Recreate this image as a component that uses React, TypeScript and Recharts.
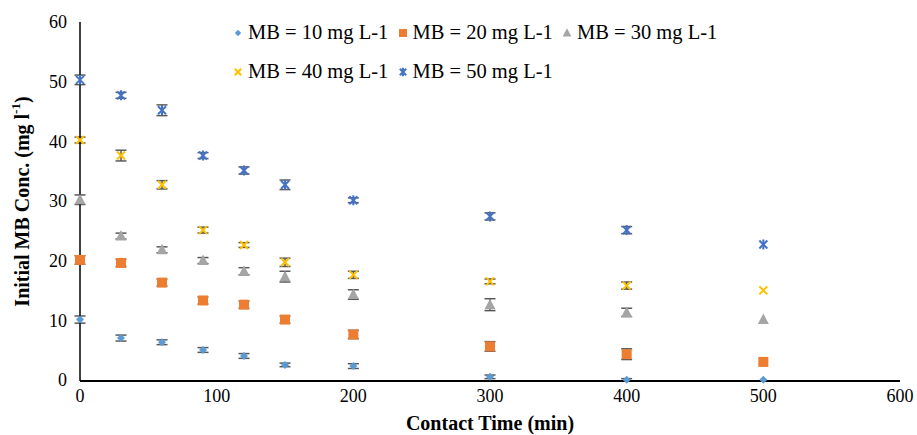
import { ScatterChart, Scatter, XAxis, YAxis, ErrorBar } from "recharts";

const times = [0, 30, 60, 90, 120, 150, 200, 300, 400, 500];

const mb10 = [10.1, 7.0, 6.3, 5.0, 4.0, 2.5, 2.3, 0.5, 0.0, 0.0];
const mb10Err = [0.6, 0.5, 0.4, 0.4, 0.4, 0.3, 0.4, 0.3, 0.2, 0];
const mb20 = [20.1, 19.6, 16.3, 13.3, 12.6, 10.1, 7.6, 5.6, 4.3, 3.0];
const mb20Err = [0.7, 0.6, 0.6, 0.6, 0.6, 0.6, 0.7, 0.8, 0.9, 0];
const mb30 = [30.2, 24.1, 21.8, 20.0, 18.2, 17.3, 14.3, 12.6, 11.3, 10.1];
const mb30Err = [0.8, 0.5, 0.5, 0.5, 0.6, 0.9, 0.8, 1.0, 0.7, 0];
const mb40 = [40.2, 37.6, 32.7, 25.1, 22.6, 19.7, 17.6, 16.5, 15.8, 15.0];
const mb40Err = [0.5, 0.9, 0.7, 0.5, 0.4, 0.7, 0.6, 0.4, 0.6, 0];
const mb50 = [50.3, 47.7, 45.2, 37.6, 35.1, 32.7, 30.1, 27.4, 25.1, 22.7];
const mb50Err = [0.8, 0.5, 0.9, 0.5, 0.6, 0.8, 0.4, 0.6, 0.6, 0];

const xTicks = [0, 100, 200, 300, 400, 500, 600];
const yTicks = [0, 10, 20, 30, 40, 50, 60];

const FONT = "Liberation Serif";

const toRows = (vals: number[], errs: number[]) =>
  times.map((t, i) => ({ time: t, value: vals[i], err: errs[i] }));

type Kind = "diamond" | "square" | "triangle" | "cross" | "star";

const series: { name: string; color: string; kind: Kind; data: ReturnType<typeof toRows> }[] = [
  { name: "MB = 10 mg L-1", color: "#5B9BD5", kind: "diamond", data: toRows(mb10, mb10Err) },
  { name: "MB = 20 mg L-1", color: "#ED7D31", kind: "square", data: toRows(mb20, mb20Err) },
  { name: "MB = 30 mg L-1", color: "#A5A5A5", kind: "triangle", data: toRows(mb30, mb30Err) },
  { name: "MB = 40 mg L-1", color: "#FFC000", kind: "cross", data: toRows(mb40, mb40Err) },
  { name: "MB = 50 mg L-1", color: "#4472C4", kind: "star", data: toRows(mb50, mb50Err) },
];

function Marker({ kind, color, cx, cy, s = 1 }: { kind: Kind; color: string; cx: number; cy: number; s?: number }) {
  if (kind === "diamond") {
    const r = 4 * s;
    return <polygon points={`${cx},${cy - r} ${cx + r},${cy} ${cx},${cy + r} ${cx - r},${cy}`} fill={color} />;
  }
  if (kind === "square") {
    const r = 5 * s;
    return <rect x={cx - r} y={cy - r} width={2 * r} height={2 * r} fill={color} />;
  }
  if (kind === "triangle") {
    return (
      <polygon
        points={`${cx},${cy - 6 * s} ${cx + 5.5 * s},${cy + 4.5 * s} ${cx - 5.5 * s},${cy + 4.5 * s}`}
        fill={color}
      />
    );
  }
  const r = 4 * s;
  return (
    <g stroke={color} strokeWidth={2}>
      <line x1={cx - r} y1={cy - r} x2={cx + r} y2={cy + r} />
      <line x1={cx - r} y1={cy + r} x2={cx + r} y2={cy - r} />
      {kind === "star" && <line x1={cx} y1={cy - r - 1} x2={cx} y2={cy + r + 1} />}
    </g>
  );
}

function LegendBox() {
  const rows = [series.slice(0, 3), series.slice(3)];
  return (
    <div
      style={{
        position: "absolute",
        left: 232,
        top: 13,
        fontFamily: FONT,
        fontSize: 20.5,
        color: "#000",
        whiteSpace: "nowrap",
      }}
    >
      {rows.map((row, ri) => (
        <div key={ri} style={{ height: 39, display: "flex", alignItems: "center" }}>
          {row.map((s) => (
            <div key={s.name} style={{ width: 164.5, display: "flex", alignItems: "center" }}>
              <svg width={14} height={14} style={{ marginRight: 2 }}>
                <Marker kind={s.kind} color={s.color} cx={6} cy={7} s={0.8} />
              </svg>
              <span>{s.name}</span>
            </div>
          ))}
        </div>
      ))}
    </div>
  );
}

function YTitle(props: any) {
  const vb = props.viewBox || {};
  const cx = 22;
  const cy = vb.y + vb.height / 2;
  return (
    <text
      x={cx}
      y={cy}
      transform={`rotate(-90, ${cx}, ${cy})`}
      textAnchor="middle"
      dominantBaseline="central"
      fontFamily={FONT}
      fontSize={20}
      fontWeight="bold"
      fill="#000"
    >
      Initial MB Conc. (mg l
      <tspan fontSize={13} dy={-7}>-1</tspan>
      <tspan dy={7}>)</tspan>
    </text>
  );
}

function XTitle(props: any) {
  const vb = props.viewBox || {};
  return (
    <text
      x={vb.x + vb.width / 2}
      y={423}
      textAnchor="middle"
      dominantBaseline="central"
      fontFamily={FONT}
      fontSize={20}
      fontWeight="bold"
      fill="#000"
    >
      Contact Time (min)
    </text>
  );
}

export default function App() {
  return (
    <div style={{ position: "absolute", left: 0, top: 0, width: 917, height: 435, background: "#fff" }}>
      <ScatterChart width={917} height={435} margin={{ top: 22, right: 17, bottom: 0, left: 0 }}>
        <XAxis
          type="number"
          dataKey="time"
          domain={[0, 600]}
          ticks={xTicks}
          tickLine={false}
          axisLine={{ stroke: "#000", strokeWidth: 2 }}
          tick={{ fill: "#000", fontFamily: FONT, fontSize: 18 }}
          tickMargin={2}
          height={54}
          label={<XTitle />}
        />
        <YAxis
          type="number"
          dataKey="value"
          domain={[0, 60]}
          ticks={yTicks}
          tickLine={false}
          axisLine={{ stroke: "#000", strokeWidth: 1.5 }}
          tick={{ fill: "#000", fontFamily: FONT, fontSize: 18 }}
          tickMargin={7}
          width={80}
          label={<YTitle />}
        />
        {series.map((s) => (
          <Scatter
            key={s.name}
            name={s.name}
            data={s.data}
            fill={s.color}
            isAnimationActive={false}
            shape={(p: any) => <Marker kind={s.kind} color={s.color} cx={p.cx} cy={p.cy} />}
          >
            <ErrorBar dataKey="err" direction="y" width={5.5} stroke="#595959" strokeWidth={1.5} />
          </Scatter>
        ))}
      </ScatterChart>
      <LegendBox />
    </div>
  );
}
